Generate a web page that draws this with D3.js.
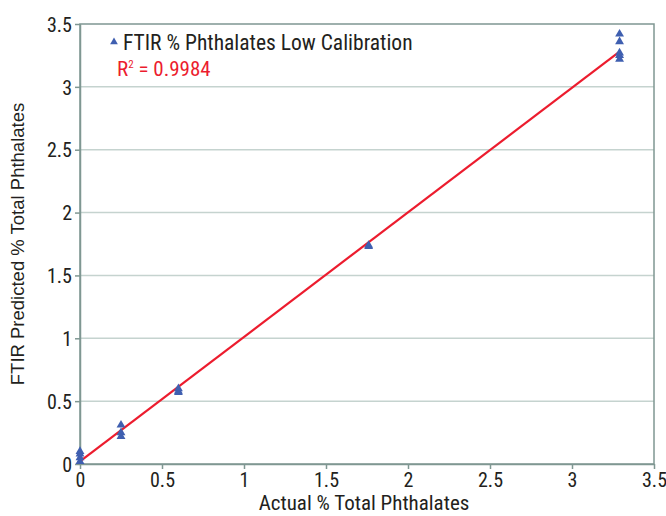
<!DOCTYPE html>
<html lang="en">
<head>
    <meta charset="UTF-8">
    <title>FTIR Phthalates Calibration</title>
    <script src="https://d3js.org/d3.v7.min.js"></script>
    <style>
        body { margin: 0; background: #ffffff; }
        .cond { font-family: "Liberation Sans Narrow", "Roboto Condensed", "DejaVu Sans Condensed", sans-serif; }
    </style>
</head>
<body>
    <div id="chart"></div>
    <script>
        // Data
        const actual = [0, 0, 0, 0, 0.25, 0.25, 0.25, 0.6, 0.6, 0.6, 1.76, 1.76, 3.29, 3.29, 3.29, 3.29, 3.29];
        const predicted = [0.02, 0.05, 0.08, 0.1, 0.22, 0.25, 0.31, 0.57, 0.58, 0.6, 1.73, 1.74, 3.22, 3.25, 3.27, 3.36, 3.42];
        const fitX = [0, 3.29];
        const fitY = [0.02, 3.28];
        const ticks = [0, 0.5, 1, 1.5, 2, 2.5, 3, 3.5];

        const width = 666, height = 516;
        const margin = { top: 24, right: 12, bottom: 52, left: 80 };

        const svg = d3.select("#chart").append("svg")
            .attr("width", width)
            .attr("height", height);

        const x = d3.scaleLinear().domain([0, 3.5]).range([margin.left, width - margin.right]);
        const y = d3.scaleLinear().domain([0, 3.5]).range([height - margin.bottom, margin.top]);

        // horizontal grid
        svg.append("g").selectAll("line")
            .data(ticks.slice(1, -1))
            .join("line")
            .attr("x1", margin.left).attr("x2", width - margin.right)
            .attr("y1", d => y(d)).attr("y2", d => y(d))
            .style("stroke", "#c5d3cf").style("stroke-width", 1.5);

        // frame
        svg.append("rect")
            .attr("x", margin.left).attr("y", margin.top)
            .attr("width", width - margin.left - margin.right)
            .attr("height", height - margin.top - margin.bottom)
            .style("fill", "none").style("stroke", "#7f9792").style("stroke-width", 1.5);

        const xAxis = svg.append("g")
            .attr("transform", `translate(0,${height - margin.bottom})`)
            .call(d3.axisBottom(x).tickValues(ticks).tickFormat(d3.format("")).tickSize(5).tickSizeOuter(0));
        const yAxis = svg.append("g")
            .attr("transform", `translate(${margin.left},0)`)
            .call(d3.axisLeft(y).tickValues(ticks).tickFormat(d3.format("")).tickSize(5).tickSizeOuter(0));

        [xAxis, yAxis].forEach(a => {
            a.select(".domain").style("stroke", "#7f9792").style("stroke-width", 1.5);
            a.selectAll(".tick line").style("stroke", "#7f9792").style("stroke-width", 1.5);
            a.selectAll("text").attr("class", "cond")
                .style("font-size", "20px").style("fill", "#231f20");
        });
        xAxis.selectAll("text").attr("y", 7).attr("dy", "0.8em");
        yAxis.selectAll("text").attr("x", -8).attr("dy", "0.36em");

        // fit line
        svg.append("line")
            .attr("x1", x(fitX[0])).attr("y1", y(fitY[0]))
            .attr("x2", x(fitX[1])).attr("y2", y(fitY[1]))
            .style("stroke", "#ec1c2e").style("stroke-width", 2.2);

        // triangles
        const tri = d3.symbol().type(d3.symbolTriangle).size(34);
        svg.append("g").selectAll("path")
            .data(actual.map((a, i) => [a, predicted[i]]))
            .join("path")
            .attr("d", tri)
            .attr("transform", d => `translate(${x(d[0])},${y(d[1])})`)
            .style("fill", "#3f5fb0");

        // legend
        svg.append("path")
            .attr("d", d3.symbol().type(d3.symbolTriangle).size(26))
            .attr("transform", "translate(114,42)")
            .style("fill", "#3f5fb0");
        svg.append("text").attr("class", "cond")
            .attr("x", 123).attr("y", 50)
            .style("font-size", "21.5px").style("fill", "#231f20")
            .text("FTIR % Phthalates Low Calibration");
        const r2 = svg.append("text").attr("class", "cond")
            .attr("x", 117).attr("y", 76)
            .style("font-size", "21px").style("fill", "#ec1c2e");
        r2.append("tspan").text("R");
        r2.append("tspan").attr("dy", -8).style("font-size", "11px").text("2");
        r2.append("tspan").attr("dy", 8).text(" = 0.9984");

        // axis titles
        svg.append("text").attr("class", "cond")
            .attr("x", 364).attr("y", 510)
            .attr("text-anchor", "middle")
            .style("font-size", "21px").style("fill", "#231f20")
            .text("Actual % Total Phthalates");
        svg.append("text")
            .attr("transform", `translate(24,${(margin.top + height - margin.bottom) / 2}) rotate(-90)`)
            .attr("text-anchor", "middle")
            .style("font-family", "Liberation Sans, Arial, sans-serif")
            .style("font-size", "18.5px").style("fill", "#231f20")
            .text("FTIR Predicted % Total Phthalates");
    </script>
</body>
</html>
